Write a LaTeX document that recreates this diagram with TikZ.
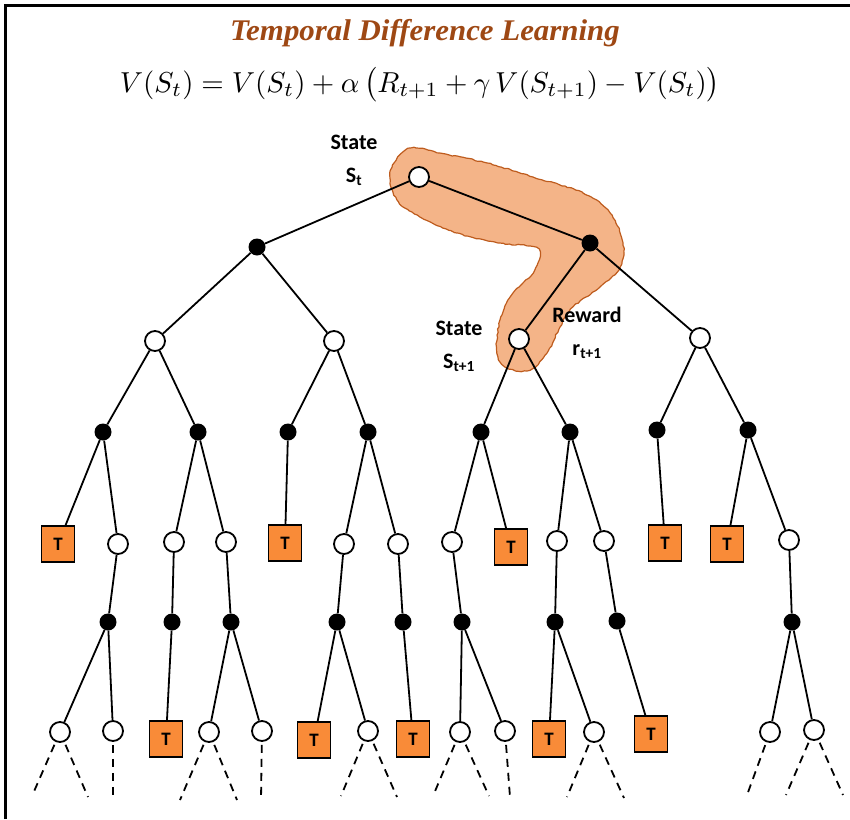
\documentclass[tikz,border=0pt]{standalone}
\usepackage{fontspec}
\setsansfont{Carlito}
\newfontfamily\titlefont{Liberation Serif}
\usetikzlibrary{decorations.pathmorphing}
\definecolor{torange}{RGB}{249,139,56}
\definecolor{hlfill}{RGB}{244,180,136}
\definecolor{hlline}{RGB}{190,92,30}
\definecolor{titlec}{RGB}{158,72,20}
\begin{document}
\begin{tikzpicture}[x=1pt,y=-1pt,
  onode/.style={circle,draw,line width=1.8pt,fill=white,minimum size=20pt,inner sep=0pt},
  fnode/.style={circle,fill=black,minimum size=17pt,inner sep=0pt},
  tnode/.style={rectangle,draw,line width=1.8pt,fill=torange,minimum width=33pt,minimum height=36pt,inner sep=0pt,font=\sffamily\bfseries\fontsize{19}{19}\selectfont},
  edge/.style={line width=1.8pt},
  ddash/.style={line width=1.8pt,dash pattern=on 8pt off 6pt,shorten <=3pt},
  lbl/.style={font=\sffamily\bfseries\fontsize{22}{33}\selectfont,align=center,inner sep=0pt}]
\useasboundingbox (0,0) rectangle (850,819);
\draw[line width=2.5pt] (5.5,819) -- (5.5,5.5) -- (850,5.5);
% title and formula
\node[inner sep=0pt,anchor=base] (title) at (425,40) {\scalebox{1.03}[1]{\titlefont\bfseries\itshape\color{titlec}\fontsize{30}{30}\selectfont Temporal Difference Learning}};
\node[inner sep=0pt,anchor=base] (eq) at (420,92) {\resizebox{600pt}{!}{$V(S_t) = V(S_t) + \alpha\,\smash{\bigl(}R_{t+1} + \gamma\, V(S_{t+1}) - V(S_t)\smash{\bigr)}$}};
% highlight
\draw[fill=hlfill,draw=hlline,line width=1.2pt,decorate,decoration={random steps,segment length=3pt,amplitude=0.6pt}] plot[smooth cycle,tension=0.6] coordinates {
 (403,152) (416,148) (440,153) (487,163) (533,177) (583,193) (610,213) (623,243) (620,267)
 (600,287) (573,307) (560,327) (547,353) (530,370) (507,368) (497,353) (500,320) (513,293)
 (533,273) (540,252) (530,246) (500,243) (457,233) (420,217) (397,200) (390,173)};
% nodes
\node[onode] (r) at (419,177) {};
\node[fnode] (a1) at (257,247) {};
\node[fnode] (a2) at (590,243) {};
\node[onode] (s1) at (155,341) {};
\node[onode] (s2) at (334,341) {};
\node[onode] (s3) at (519,339) {};
\node[onode] (s4) at (700,338) {};
\node[fnode] (b1) at (103,432) {};
\node[fnode] (b2) at (198,432) {};
\node[fnode] (b3) at (288,432) {};
\node[fnode] (b4) at (368,432) {};
\node[fnode] (b5) at (481,432) {};
\node[fnode] (b6) at (570,432) {};
\node[fnode] (b7) at (657,430) {};
\node[fnode] (b8) at (748,430) {};
\node[tnode] (c1) at (58,544) {T};
\node[onode] (c2) at (118,544) {};
\node[onode] (c3) at (174,542) {};
\node[onode] (c4) at (226,542) {};
\node[tnode] (c5) at (285,543) {T};
\node[onode] (c6) at (344,544) {};
\node[onode] (c7) at (398,544) {};
\node[onode] (c8) at (452,542) {};
\node[tnode] (c9) at (511,547) {T};
\node[onode] (c10) at (557,541) {};
\node[onode] (c11) at (604,541) {};
\node[tnode] (c12) at (665,543) {T};
\node[tnode] (c13) at (727,544) {T};
\node[onode] (c14) at (789,540) {};
\node[fnode] (d1) at (108,622) {};
\node[fnode] (d2) at (172,622) {};
\node[fnode] (d3) at (231,622) {};
\node[fnode] (d4) at (337,622) {};
\node[fnode] (d5) at (403,622) {};
\node[fnode] (d6) at (462,622) {};
\node[fnode] (d7) at (555,622) {};
\node[fnode] (d8) at (617,621) {};
\node[fnode] (d9) at (792,622) {};
\node[onode] (e1) at (60,732) {};
\node[onode] (e2) at (113,731) {};
\node[tnode] (e3) at (166,739) {T};
\node[onode] (e4) at (209,732) {};
\node[onode] (e5) at (262,731) {};
\node[tnode] (e6) at (314,740) {T};
\node[onode] (e7) at (368,731) {};
\node[tnode] (e8) at (413,739) {T};
\node[onode] (e9) at (460,732) {};
\node[onode] (e10) at (505,731) {};
\node[tnode] (e11) at (549,739) {T};
\node[onode] (e12) at (594,732) {};
\node[tnode] (e13) at (651,734) {T};
\node[onode] (e14) at (770,732) {};
\node[onode] (e15) at (814,730) {};
% dashed ends
\coordinate (f1) at (32,796); \coordinate (f2) at (88,797);
\coordinate (f3) at (113,800);
\coordinate (f4) at (180,800); \coordinate (f5) at (237,800);
\coordinate (f6) at (261,800);
\coordinate (f7) at (341,796); \coordinate (f8) at (397,797);
\coordinate (f9) at (433,796); \coordinate (f10) at (489,796);
\coordinate (f11) at (510,797);
\coordinate (f12) at (567,797); \coordinate (f13) at (624,798);
\coordinate (f14) at (747,795);
\coordinate (f15) at (786,795); \coordinate (f16) at (843,795);
% edges
\draw[edge] (r) -- (a1); \draw[edge] (r) -- (a2);
\draw[edge] (a1) -- (s1); \draw[edge] (a1) -- (s2);
\draw[edge] (a2) -- (s3); \draw[edge] (a2) -- (s4);
\draw[edge] (s1) -- (b1); \draw[edge] (s1) -- (b2);
\draw[edge] (s2) -- (b3); \draw[edge] (s2) -- (b4);
\draw[edge] (s3) -- (b5); \draw[edge] (s3) -- (b6);
\draw[edge] (s4) -- (b7); \draw[edge] (s4) -- (b8);
\draw[edge] (b1) -- (c1); \draw[edge] (b1) -- (c2);
\draw[edge] (b2) -- (c3); \draw[edge] (b2) -- (c4);
\draw[edge] (b3) -- (c5);
\draw[edge] (b4) -- (c6); \draw[edge] (b4) -- (c7);
\draw[edge] (b5) -- (c8); \draw[edge] (b5) -- (c9);
\draw[edge] (b6) -- (c10); \draw[edge] (b6) -- (c11);
\draw[edge] (b7) -- (c12);
\draw[edge] (b8) -- (c13); \draw[edge] (b8) -- (c14);
\draw[edge] (c2) -- (d1); \draw[edge] (c3) -- (d2); \draw[edge] (c4) -- (d3);
\draw[edge] (c6) -- (d4); \draw[edge] (c7) -- (d5); \draw[edge] (c8) -- (d6);
\draw[edge] (c10) -- (d7); \draw[edge] (c11) -- (d8); \draw[edge] (c14) -- (d9);
\draw[edge] (d1) -- (e1); \draw[edge] (d1) -- (e2);
\draw[edge] (d2) -- (e3);
\draw[edge] (d3) -- (e4); \draw[edge] (d3) -- (e5);
\draw[edge] (d4) -- (e6); \draw[edge] (d4) -- (e7);
\draw[edge] (d5) -- (e8);
\draw[edge] (d6) -- (e9); \draw[edge] (d6) -- (e10);
\draw[edge] (d7) -- (e11); \draw[edge] (d7) -- (e12);
\draw[edge] (d8) -- (e13);
\draw[edge] (d9) -- (e14); \draw[edge] (d9) -- (e15);
\draw[ddash] (e1) -- (f1); \draw[ddash] (e1) -- (f2);
\draw[ddash] (e2) -- (f3);
\draw[ddash] (e4) -- (f4); \draw[ddash] (e4) -- (f5);
\draw[ddash] (e5) -- (f6);
\draw[ddash] (e7) -- (f7); \draw[ddash] (e7) -- (f8);
\draw[ddash] (e9) -- (f9); \draw[ddash] (e9) -- (f10);
\draw[ddash] (e10) -- (f11);
\draw[ddash] (e12) -- (f12); \draw[ddash] (e12) -- (f13);
\draw[ddash] (e14) -- (f14);
\draw[ddash] (e15) -- (f15); \draw[ddash] (e15) -- (f16);
% labels
\node[lbl] (l1) at (354,160) {State\\S\textsubscript{t}};
\node[lbl] (l2) at (459,346) {State\\S\textsubscript{t+1}};
\node[lbl] (l3) at (587,333) {Reward\\r\textsubscript{t+1}};
\end{tikzpicture}
\end{document}
